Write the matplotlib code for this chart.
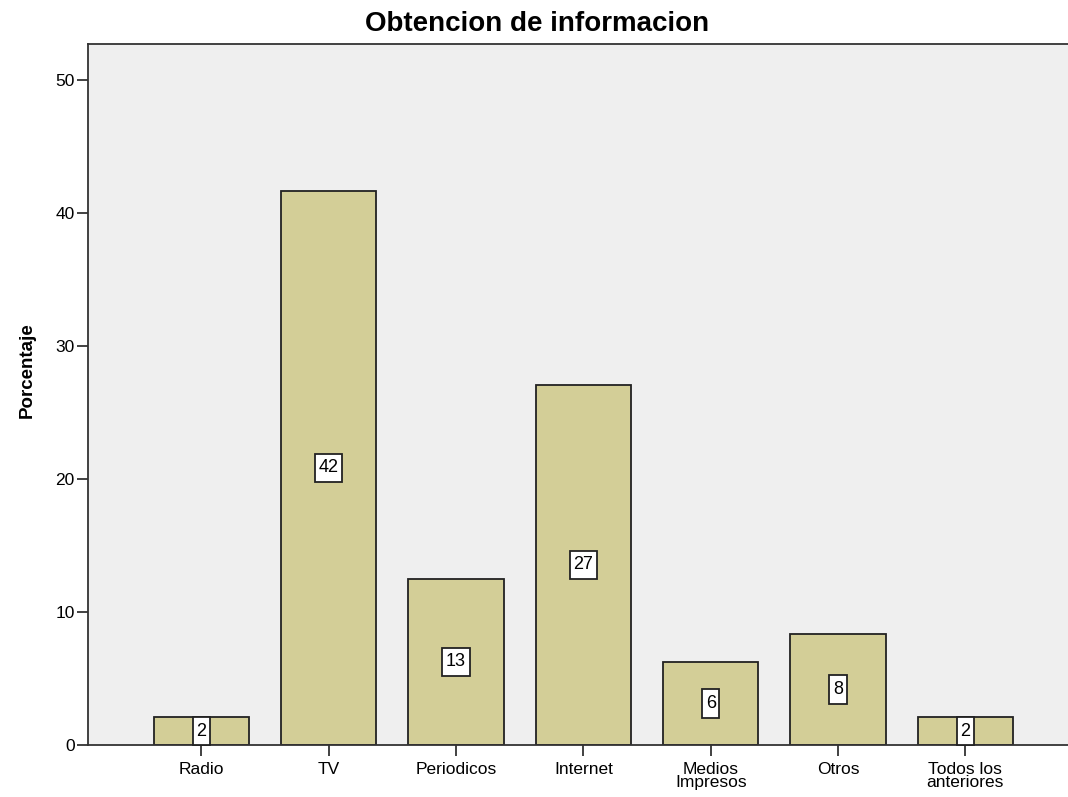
import matplotlib
matplotlib.use("Agg")
import matplotlib.pyplot as plt
from matplotlib.path import Path

plt.rcParams['font.family'] = ['Liberation Sans', 'DejaVu Sans']

categorias = ['Radio', 'TV', 'Periodicos', 'Internet', 'Medios\nImpresos', 'Otros', 'Todos los\nanteriores']
porcentajes = [2.08, 41.67, 12.50, 27.08, 6.25, 8.33, 2.08]
etiquetas = ['2', '42', '13', '27', '6', '8', '2']
yticks = [0, 10, 20, 30, 40, 50]


def caja(x0, y0, width, height, mutation_size):
    # recuadro blanco, mas alto que ancho
    px, py = 0.2 * mutation_size, 0.32 * mutation_size
    x0, y0 = x0 - px, y0 - py
    x1, y1 = x0 + width + 2 * px, y0 + height + 2 * py
    return Path([(x0, y0), (x1, y0), (x1, y1), (x0, y1), (x0, y0)], closed=True)


fig = plt.figure(figsize=(10.68, 7.97), dpi=100)
ax = fig.add_axes([0.0824, 0.0652, 0.93, 0.8796])
ax.set_facecolor('#EFEFEF')

x = range(len(categorias))
ax.bar(x, porcentajes, width=0.75, color='#D3CE97', edgecolor='#222222', linewidth=1.3, zorder=2)

for xi, v, t in zip(x, porcentajes, etiquetas):
    ax.text(xi, v / 2, t, ha='center', va='center', fontsize=13, zorder=4,
            bbox=dict(boxstyle=caja, facecolor='white', edgecolor='#222222', linewidth=1.3))

ax.set_xlim(-0.89, 6.91)
ax.set_ylim(0, 52.7)
ax.set_xticks(list(x))
ax.set_xticklabels(categorias, fontsize=12.5, linespacing=0.85)
ax.set_yticks(yticks)
ax.tick_params(axis='both', direction='out', length=8, width=1.3, labelsize=12.5, color='#333333')
ax.tick_params(axis='x', pad=4)
ax.tick_params(axis='y', pad=1.5)

ax.spines['right'].set_visible(False)
for s in ['left', 'bottom', 'top']:
    ax.spines[s].set_linewidth(1.3)
    ax.spines[s].set_color('#333333')

ax.set_ylabel('Porcentaje', fontsize=13.5, fontweight='bold')
ax.yaxis.set_label_coords(-0.053, 0.535)
fig.suptitle('Obtencion de informacion', fontsize=20, fontweight='bold', x=0.503, y=0.986)

fig.savefig('out.png', dpi=100)
